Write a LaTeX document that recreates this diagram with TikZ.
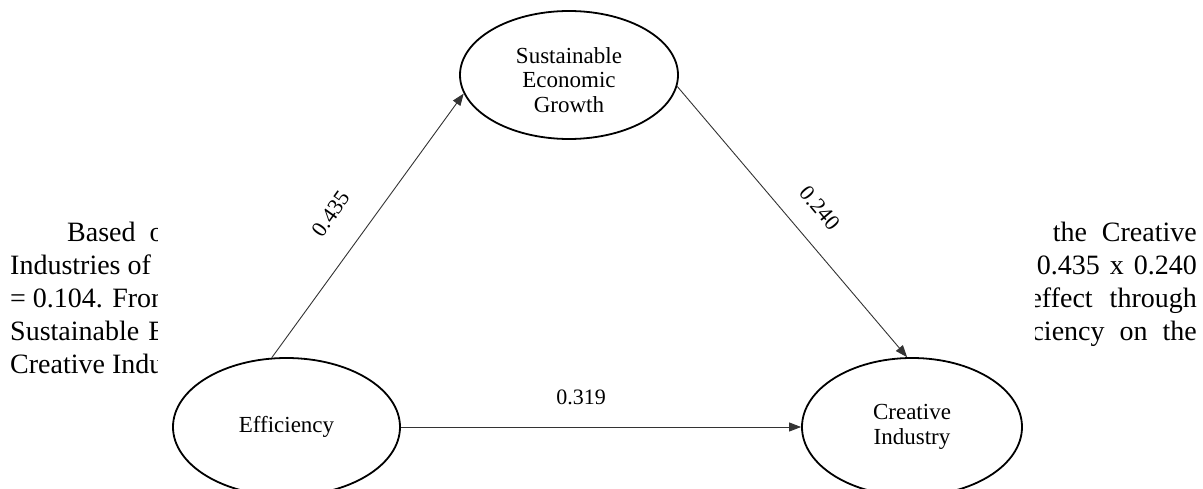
\documentclass[tikz,border=0pt]{standalone}
\usepackage{fontspec}
\setmainfont{Liberation Serif}
\usetikzlibrary{shapes.geometric,arrows.meta}
\begin{document}
\begin{tikzpicture}[x=1pt,y=1pt,
  bodyl/.style={font=\fontsize{28}{33}\selectfont, inner sep=0pt, anchor=base west},
  bodyr/.style={font=\fontsize{28}{33}\selectfont, inner sep=0pt, anchor=base east},
  var/.style={ellipse, draw=black, line width=1.8pt, fill=white, inner sep=0pt, align=center, font=\fontsize{23}{24.5}\selectfont},
  vartext/.style={inner sep=0pt, align=center, font=\fontsize{23}{24.5}\selectfont},
  conn/.style={draw=black!80, line width=0.9pt, -{Triangle[length=12pt,width=9pt]}},
  coef/.style={font=\fontsize{22}{24}\selectfont, inner sep=0pt}
]
\useasboundingbox (0,0) rectangle (1203,488);
% surrounding body text, partly hidden by the figure
\begin{scope}
  \clip (0,0) rectangle (157,488);
  \node[bodyl] (l1) at (67,246) {Based\hspace{14pt}on};
  \node[bodyl] (l2) at (10,213) {Industries of\hspace{12pt}the};
  \node[bodyl] (l3) at (10,180) {= 0.104. From};
  \node[bodyl] (l4) at (10,147) {Sustainable\hspace{9pt}Economic};
  \node[bodyl] (l5) at (10,114) {Creative Industry};
\end{scope}
\begin{scope}
  \clip (1035,0) rectangle (1203,488);
  \node[bodyr] (r1) at (1197,246) {the\hspace{15pt}Creative};
  \node[bodyr] (r2) at (1197,213) {0.435\hspace{10pt}x\hspace{10pt}0.240};
  \node[bodyr] (r3) at (1197,180) {effect\hspace{17pt}through};
  \node[bodyr] (r4) at (1197,147) {efficiency\hspace{15pt}on\hspace{15pt}the};
\end{scope}
% diagram
\node[var, minimum width=218pt, minimum height=128pt] (seg) at (569,413) {};
\node[vartext] (segl) at ([yshift=-5pt]seg.center) {Sustainable\\Economic\\Growth};
\node[var, minimum width=227pt, minimum height=138pt] (eff) at (286.5,61) {Efficiency};
\node[var, minimum width=220pt, minimum height=138pt] (ci) at (912,61) {Creative\\Industry};
\draw[conn] (eff.102) -- (seg.190);
\draw[conn] (seg.-6) -- (ci.94);
\draw[conn] (eff.0) -- (ci.180);
\node[coef, rotate=54.5] (c1) at (331,274) {0.435};
\node[coef, rotate=-50] (c2) at (820,280) {0.240};
\node[coef] (c3) at (581,91) {0.319};
\end{tikzpicture}
\end{document}
